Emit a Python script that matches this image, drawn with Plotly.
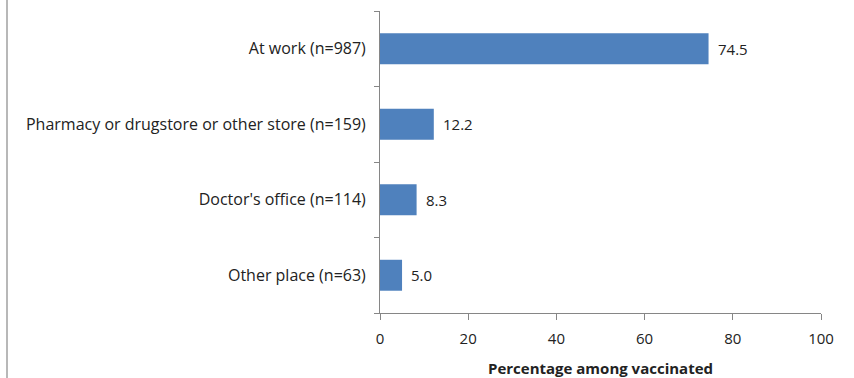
import plotly.graph_objects as go

categories = ["At work (n=987)", "Pharmacy or drugstore or other store (n=159)",
              "Doctor's office (n=114)", "Other place (n=63)"]
values = [74.5, 12.2, 8.3, 5.0]
x_ticks = [0, 20, 40, 60, 80, 100]
x_title = "Percentage among vaccinated"

FONT = "Open Sans, Liberation Sans, sans-serif"
AXIS = "#868686"

fig = go.Figure()
fig.add_trace(go.Bar(
    y=categories, x=values, orientation="h",
    marker=dict(color="#4F81BD", line=dict(width=0)),
    width=0.41, hoverinfo="skip",
))
for c, v in zip(categories, values):
    fig.add_annotation(x=v, y=c, text=f"{v:.1f}", showarrow=False,
                       xanchor="left", xshift=7, yshift=0,
                       font=dict(family=FONT, size=15, color="#222222"))

fig.update_layout(
    width=854, height=378,
    margin=dict(l=380, r=33, t=11, b=65, autoexpand=False),
    paper_bgcolor="white", plot_bgcolor="white",
    showlegend=False,
    font=dict(family=FONT, size=15, color="#222222"),
    xaxis=dict(range=[0, 100], tickvals=x_ticks, showgrid=False, zeroline=False,
               showline=True, linecolor=AXIS, linewidth=1, automargin=False,
               ticks="outside", ticklen=6, tickcolor=AXIS, ticklabelstandoff=6,
               tickfont=dict(family=FONT, size=15, color="#222222"),
               title=dict(text=f"<b>{x_title}</b>", standoff=19,
                          font=dict(family=FONT, size=15, color="#222222"))),
    yaxis=dict(categoryorder="array", categoryarray=categories[::-1],
               range=[-0.5, 3.5], showgrid=False, zeroline=False,
               showline=True, linecolor=AXIS, linewidth=1, automargin=False,
               ticks="outside", ticklen=5, tickcolor=AXIS, tickson="boundaries",
               ticklabelstandoff=10,
               tickfont=dict(family=FONT, size=16, color="#222222")),
    shapes=[dict(type="line", xref="paper", yref="paper",
                 x0=(7 - 380) / 441, x1=(7 - 380) / 441, y0=-65 / 302, y1=(302 + 11) / 302,
                 line=dict(color="#A0A0A0", width=1.5))],
)
fig.write_html("out.html")
